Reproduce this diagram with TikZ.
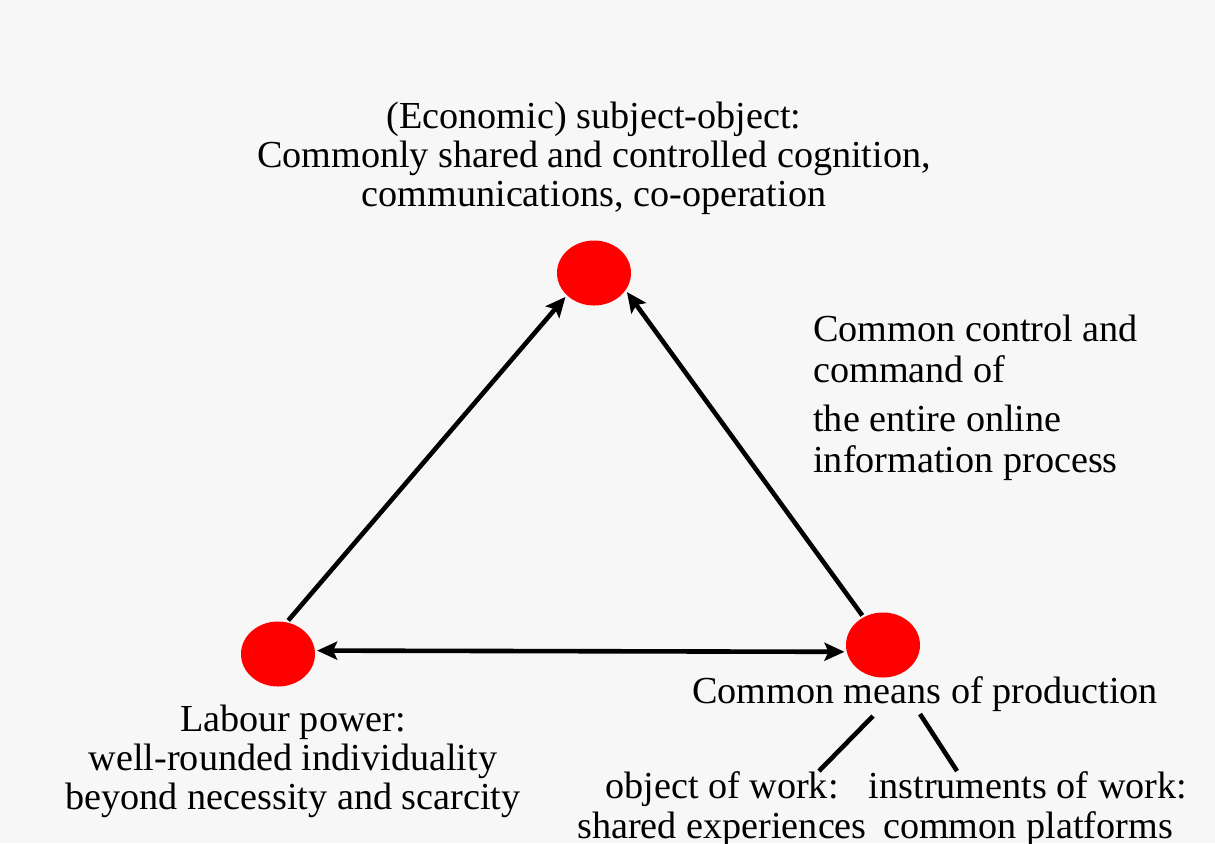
\documentclass[tikz,border=0pt]{standalone}
\usepackage{fontspec}
\setmainfont{Liberation Serif}
\usetikzlibrary{shapes.geometric,arrows.meta}
\definecolor{bgcol}{RGB}{247,247,247}
\definecolor{dotred}{RGB}{255,0,0}

\begin{document}
\begin{tikzpicture}[x=0.5pt,y=-0.5pt,line width=2.3pt,
    dot/.style={ellipse,fill=dotred,minimum width=37pt,minimum height=32.5pt,inner sep=0pt},
    lbl/.style={inner sep=0pt,font=\fontsize{19.1}{#1}\selectfont},
    lbl/.default=19.5pt,
    arr/.style={-{Stealth[length=10pt,width=9pt,inset=2pt]}},
    dbl/.style={{Stealth[length=10pt,width=9pt,inset=2pt]}-{Stealth[length=10pt,width=9pt,inset=2pt]}}]
	\fill[bgcol] (0,0) rectangle (1215,843);
	\useasboundingbox (0,0) rectangle (1215,843);
	% the three corners
	\node[dot] (sub) at (594,273) {};
	\node[dot] (lab) at (278,654) {};
	\node[dot] (mop) at (883,645) {};
	% labels
	\node[lbl,align=center] (subt) at (594,158) {(Economic) subject-object:\\Commonly shared and controlled cognition,\\communications, co-operation};
	\node[lbl=20.5pt,align=left,anchor=west] (ctrl) at (811,398) {Common control and\\command of\\[4pt]the entire online\\information process};
	\node[lbl,align=center] (labt) at (293,761) {Labour power:\\well-rounded individuality\\beyond necessity and scarcity};
	\node[lbl] (mopt) at (925,694) {Common means of production};
	\node[lbl=20pt,align=center] (obj) at (722,809) {object of work:\\shared experiences};
	\node[lbl=20pt,align=center] (inst) at (1028,809) {instruments of work:\\common platforms};
	\coordinate (b1) at (873,716);
	\coordinate (b2) at (920,714);
	\coordinate (o1) at (819,771);
	\coordinate (i1) at (957,771);
	% connectors
	\draw[arr] (lab.73) -- (sub.220);
	\draw[arr] (mop.125) -- (sub.-30);
	\draw[dbl] (lab.5) -- (mop.190);
	\draw (b1) -- (o1);
	\draw (b2) -- (i1);
\end{tikzpicture}
\end{document}
